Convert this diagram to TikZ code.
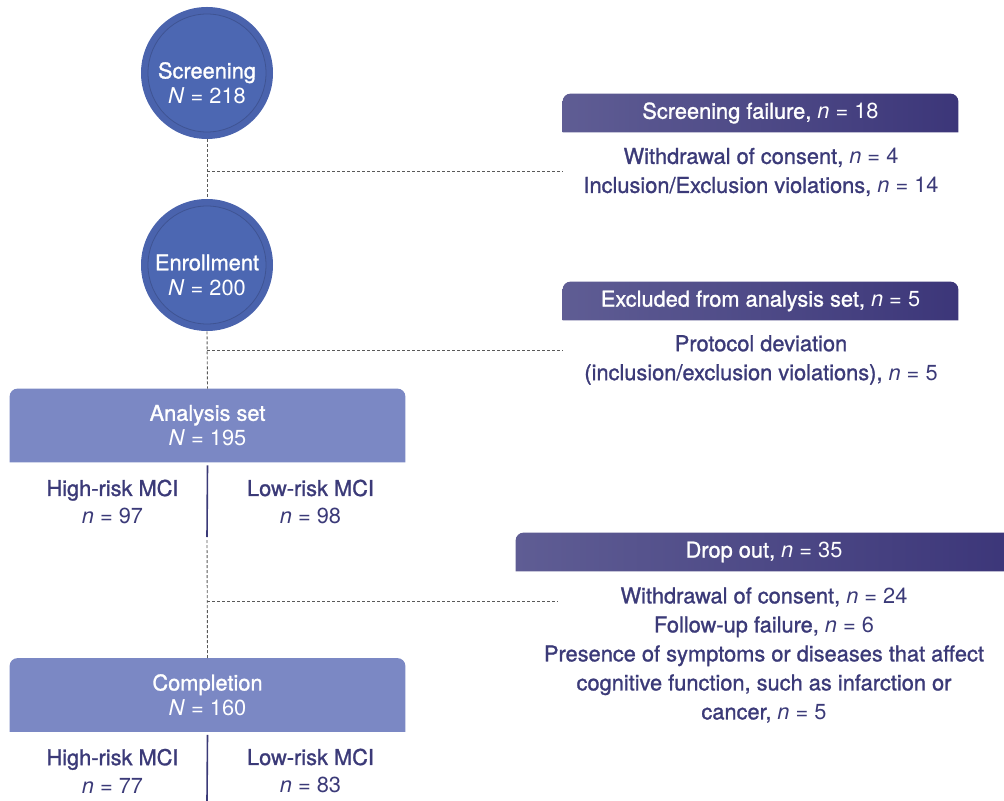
\documentclass[tikz,border=0pt]{standalone}
\usepackage{fontspec}
\setmainfont{TeX Gyre Heros}
\newfontfamily\labfont[FakeBold=1.2]{TeX Gyre Heros}
\usetikzlibrary{positioning,backgrounds}

\definecolor{navy}{HTML}{3B3A78}
\definecolor{circblue}{HTML}{4A63AD}
\definecolor{circinner}{HTML}{4C67B2}
\definecolor{boxblue}{HTML}{7B88C4}
\definecolor{hdrleft}{HTML}{5F5D94}
\definecolor{hdrright}{HTML}{3C3679}

\newcommand{\cnt}[2]{{\normalfont\textit{#1} = #2}}

\tikzset{
  stage/.style={circle,fill=circblue,minimum size=66pt,inner sep=0pt,
    path picture={\draw[circblue!85!black,line width=.4pt,fill=circinner]
      (path picture bounding box.center) circle (29.5pt);}},
  stagetext/.style={text=white,align=center,inner sep=0pt,
    font=\fontsize{10.9}{12.5}\selectfont},
  header/.style={minimum width=197.5pt,minimum height=19pt,inner sep=0pt,
    text=white,font=\fontsize{10.9}{12}\selectfont},
  hdrshade/.style={left color=hdrleft,right color=hdrright},
  tab/.style={insert path={(#1.south west) -- ([yshift=-4pt]#1.north west)
    arc[start angle=180,end angle=90,radius=4pt] -- ([xshift=-4pt]#1.north east)
    arc[start angle=90,end angle=0,radius=4pt] -- (#1.south east) -- cycle}},
  setbox/.style={minimum width=197.5pt,minimum height=36.5pt,inner sep=0pt,
    text=white,align=center,font=\fontsize{10.9}{12.5}\selectfont},
  reason/.style={text=navy,align=center,inner sep=0pt,
    font=\fontsize{10.9}{14.5}\selectfont},
  arm/.style={text=navy,align=center,inner sep=0pt,
    font=\fontsize{10.9}{14}\selectfont},
  flow/.style={gray!70!black,line width=.45pt,dash pattern=on 1.5pt off 1pt},
  split/.style={navy,line width=.8pt}
}

\begin{document}
\begin{tikzpicture}[x=.5pt,y=-.5pt]
  % Cadre
  \clip (0,0) rectangle (1004,801);

  % Etapes (cercles)
  \node[stage] (scr) at (207,73) {};
  \node[stagetext] (scrtxt) at (207,83) {{\labfont Screening}\\\textit{N} = 218};
  \node[stage] (enr) at (207,265) {};
  \node[stagetext] (enrtxt) at (207,275) {{\labfont Enrollment}\\\textit{N} = 200};

  % Exclusions
  \node[header] (fail) at (760.5,113) {\labfont Screening failure, \cnt{n}{18}};
  \node[reason] (failtxt) at (761,172) {\labfont Withdrawal of consent, \cnt{n}{4}\\
    \labfont Inclusion/Exclusion violations, \cnt{n}{14}};
  \node[header] (excl) at (760.5,301) {\labfont Excluded from analysis set, \cnt{n}{5}};
  \node[reason] (excltxt) at (761,360) {\labfont Protocol deviation\\
    \labfont (inclusion/exclusion violations), \cnt{n}{5}};
  \node[header,minimum width=248pt] (drop) at (764,552) {\labfont Drop out, \cnt{n}{35}};
  \node[reason] (droptxt) at (764,655) {\labfont Withdrawal of consent, \cnt{n}{24}\\
    \labfont Follow-up failure, \cnt{n}{6}\\
    \labfont Presence of symptoms or diseases that affect\\
    \labfont cognitive function, such as infarction or\\
    \labfont cancer, \cnt{n}{5}};

  % Ensembles
  \node[setbox] (ana) at (207.5,425.5) {{\labfont Analysis set}\\\textit{N} = 195};
  \node[arm] (hi1) at (112.5,502) {{\labfont High-risk MCI}\\\cnt{n}{97}};
  \node[arm] (lo1) at (310.5,502) {{\labfont Low-risk MCI}\\\cnt{n}{98}};
  \node[setbox] (comp) at (207.5,695) {{\labfont Completion}\\\textit{N} = 160};
  \node[arm] (hi2) at (112.5,771) {{\labfont High-risk MCI}\\\cnt{n}{77}};
  \node[arm] (lo2) at (310.5,771) {{\labfont Low-risk MCI}\\\cnt{n}{83}};

  % Fonds arrondis en haut
  \begin{scope}[on background layer]
    \shade[hdrshade,tab=fail];
    \shade[hdrshade,tab=excl];
    \shade[hdrshade,tab=drop];
    \fill[boxblue,tab=ana];
    \fill[boxblue,tab=comp];
  \end{scope}

  % Liaisons
  \coordinate (j1) at (207,171);
  \coordinate (j2) at (207,350);
  \coordinate (j3) at (207,601);
  \coordinate (s1) at (207,537);
  \coordinate (s2) at (207,801);
  \draw[flow] (scr.south) -- (enr.north);
  \draw[flow] (j1) -- (j1 -| fail.west);
  \draw[flow] (enr.south) -- (ana.north);
  \draw[flow] (j2) -- (j2 -| excl.west);
  \draw[split] ([yshift=-1.5pt]ana.south) -- (s1);
  \draw[flow] ([yshift=-1.5pt]s1) -- (comp.north);
  \draw[flow] (j3) -- (558,601);
  \draw[split] ([yshift=-1.5pt]comp.south) -- (s2);
\end{tikzpicture}
\end{document}
